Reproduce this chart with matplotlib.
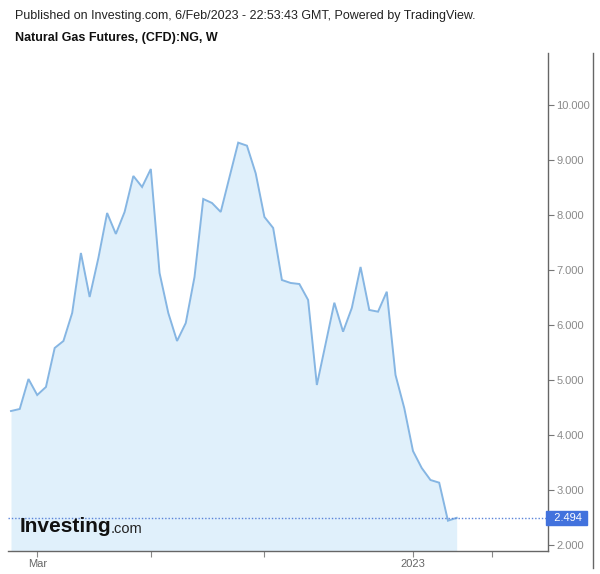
import matplotlib
matplotlib.use("Agg")
import matplotlib.pyplot as plt
from matplotlib.lines import Line2D
import matplotlib.transforms as mtransforms

# ---- data (weekly closes, Feb 14 2022 .. Feb 6 2023) ----
values = [4.436, 4.473, 5.018, 4.727, 4.873, 5.582, 5.709, 6.218, 7.309, 6.509,
          7.218, 8.036, 7.655, 8.055, 8.709, 8.509, 8.836, 6.945, 6.218, 5.709,
          6.036, 6.873, 8.291, 8.218, 8.055, 8.687, 9.315, 9.260, 8.758, 7.964,
          7.764, 6.818, 6.764, 6.745, 6.455, 4.909, 5.656, 6.405, 5.878, 6.309,
          7.055, 6.273, 6.242, 6.605, 5.091, 4.491, 3.709, 3.400, 3.182, 3.133,
          2.442, 2.494]
last_price = 2.494
x_tick_bars = [3, 16, 29, 46, 55]
x_tick_labels = ["Mar", "", "", "2023", ""]
y_ticks = [2, 3, 4, 5, 6, 7, 8, 9, 10]

header = "Published on Investing.com, 6/Feb/2023 - 22:53:43 GMT, Powered by TradingView."
title = "Natural Gas Futures, (CFD):NG, W"

W, H = 600, 574
fig = plt.figure(figsize=(W / 100, H / 100), dpi=100)
fig.patch.set_facecolor("white")

left_px, right_px, top_px, bottom_px = 8, 548, 53, 551
ax = fig.add_axes([left_px / W, 1 - bottom_px / H,
                   (right_px - left_px) / W, (bottom_px - top_px) / H])

x = list(range(len(values)))
ymin, ymax = 1.891, 10.945
ax.set_ylim(ymin, ymax)
ax.set_xlim(-0.343, 61.45)

ax.fill_between(x, values, ymin, color="#e0f0fb", lw=0, zorder=1)
ax.plot(x, values, color="#86b6e3", lw=1.4, zorder=3, solid_joinstyle="miter")
ax.axhline(last_price, color="#5a84d9", lw=1.0, ls=(0, (1, 1.4)), zorder=4)

# spines
for s in ["top", "left"]:
    ax.spines[s].set_visible(False)
for s in ["bottom", "right"]:
    ax.spines[s].set_color("#666666")
    ax.spines[s].set_linewidth(1.0)

ax.yaxis.tick_right()
ax.set_yticks(y_ticks)
ax.set_yticklabels([f"{v:.3f}" for v in y_ticks])
ax.tick_params(axis="y", which="both", direction="out", length=4, width=0.8,
               color="#777777", labelcolor="#8a8a8a", labelsize=8, pad=2)
ax.tick_params(axis="x", which="both", direction="out", length=4, width=0.8,
               color="#888888", labelcolor="#666666", labelsize=8, pad=2)
ax.set_xticks(x_tick_bars)
ax.set_xticklabels(x_tick_labels)
for lab in ax.get_xticklabels() + ax.get_yticklabels():
    lab.set_fontfamily("Liberation Sans")

# last price label
trans = mtransforms.blended_transform_factory(ax.transAxes, ax.transData)
ax.text(1.0, last_price, "  2.494 ", transform=trans, ha="left", va="center",
        fontsize=8, color="white", family="Liberation Sans", zorder=6,
        bbox=dict(boxstyle="square,pad=0.18", facecolor="#4272dd",
                  edgecolor="#4272dd"), clip_on=False)

# outer right border line
fig.add_artist(Line2D([593 / W, 593 / W], [1 - 53 / H, 1 - 568 / H],
                      transform=fig.transFigure, color="#666666", lw=1.0))

# header texts
fig.text(15 / W, 1 - 16 / H, header, ha="left", va="center", fontsize=9,
         color="#222222", family="Liberation Sans")
fig.text(15 / W, 1 - 38 / H, title, ha="left", va="center", fontsize=9,
         color="#111111", family="Liberation Sans", fontweight="bold")

# watermark logo
fig.text(20 / W, 1 - 527 / H, "Investing", ha="left", va="center", fontsize=15,
         color="#111111", family="Liberation Sans", fontweight="bold", zorder=7)
fig.text(111 / W, 1 - 529 / H, ".com", ha="left", va="center", fontsize=10.5,
         color="#222222", family="Liberation Sans", zorder=7)

fig.savefig("out.png", dpi=100, facecolor="white")
